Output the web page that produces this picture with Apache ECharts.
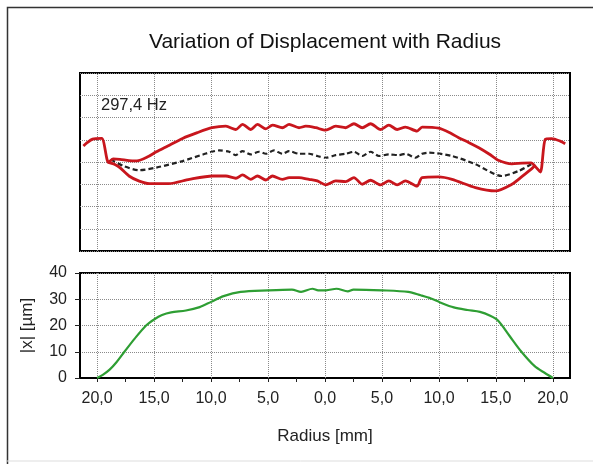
<!DOCTYPE html>
<html>
<head>
<meta charset="utf-8">
<script src="https://cdn.jsdelivr.net/npm/echarts@6/dist/echarts.min.js"></script>
<style>
  html, body { margin: 0; padding: 0; background: #fff; }
  #chart { width: 593px; height: 464px; }
</style>
</head>
<body>
<div id="chart"></div>
<script>
// Radial tick positions [mm] and their labels
const majorTicks = [-20, -15, -10, -5, 0, 5, 10, 15, 20];
const minorTicks = [-20, -17.5, -15, -12.5, -10, -7.5, -5, -2.5, 0, 2.5, 5, 7.5, 10, 12.5, 15, 17.5, 20];
const ampTicks = [0, 10, 20, 30, 40];

// Deflection shape at 297,4 Hz: upper envelope, mean position, lower envelope [radius, value]
const upperEnvelope = [
  [-21.2, 0.72], [-20.9, 0.86], [-20.4, 1.03], [-19.6, 1.06], [-19.0, -0.02],
  [-18.6, 0.14], [-18.0, 0.12], [-17.2, 0.06], [-16.5, 0.05], [-15.6, 0.22],
  [-14.8, 0.46], [-13.8, 0.72], [-12.5, 1.06], [-11.2, 1.32], [-9.9, 1.54],
  [-8.7, 1.61], [-7.82, 1.46], [-7.24, 1.69], [-6.51, 1.46], [-5.93, 1.69],
  [-5.19, 1.49], [-4.61, 1.66], [-3.74, 1.54], [-3.15, 1.69], [-2.28, 1.54],
  [-1.69, 1.61], [-0.81, 1.54], [0.06, 1.43], [0.94, 1.61], [1.81, 1.54],
  [2.54, 1.72], [3.27, 1.54], [4.0, 1.72], [4.88, 1.46], [5.6, 1.66],
  [6.33, 1.46], [7.06, 1.57], [8.08, 1.39], [8.52, 1.57], [9.98, 1.52],
  [11.0, 1.30], [11.73, 1.09], [12.6, 0.88], [13.5, 0.64], [14.4, 0.36],
  [15.2, 0.08], [16.4, -0.08], [17.3, -0.05], [18.1, -0.04], [18.45, -0.2],
  [18.9, -0.45], [19.33, 1.02], [19.88, 1.05], [20.64, 0.94], [21.08, 0.82]
];
const meanPosition = [
  [-18.8, 0.12], [-17.7, -0.18], [-16.3, -0.37], [-14.8, -0.25], [-12.5, 0.04],
  [-10.7, 0.34], [-9.29, 0.52], [-8.41, 0.46], [-7.82, 0.31], [-7.24, 0.49],
  [-6.51, 0.34], [-5.78, 0.46], [-5.19, 0.37], [-4.47, 0.52], [-3.74, 0.37],
  [-3.15, 0.49], [-2.28, 0.37], [-1.40, 0.37], [-0.67, 0.27], [0.06, 0.19],
  [0.94, 0.31], [1.81, 0.37], [2.54, 0.46], [3.27, 0.27], [4.0, 0.46],
  [4.73, 0.27], [5.6, 0.34], [6.48, 0.31], [7.06, 0.37], [7.94, 0.19],
  [8.52, 0.37], [9.11, 0.42], [11.15, 0.27], [13.2, -0.10], [15.5, -0.63],
  [17.0, -0.40], [18.1, -0.10]
];
const lowerEnvelope = [
  [-19.0, -0.02], [-18.4, -0.12], [-18.0, -0.25], [-17.2, -0.63], [-16.3, -0.86],
  [-15.4, -0.97], [-13.7, -0.97], [-11.9, -0.78], [-9.87, -0.63], [-8.7, -0.63],
  [-7.82, -0.73], [-7.24, -0.58], [-6.51, -0.78], [-5.93, -0.63], [-5.19, -0.81],
  [-4.61, -0.63], [-3.74, -0.78], [-3.15, -0.70], [-2.28, -0.70], [-1.40, -0.78],
  [-0.67, -0.85], [0.06, -1.03], [0.94, -0.85], [1.81, -0.88], [2.54, -0.70],
  [3.27, -1.0], [4.0, -0.82], [4.88, -1.03], [5.6, -0.85], [6.33, -1.03],
  [7.06, -0.85], [8.08, -1.08], [8.52, -0.70], [9.98, -0.67], [11.15, -0.78],
  [13.2, -1.15], [14.95, -1.30], [16.4, -1.0], [17.3, -0.65], [18.15, -0.3],
  [18.45, -0.15]
];

// Displacement amplitude |x| [µm] versus radius [mm]
const amplitude = [
  [-20, 0], [-19.5, 1.2], [-18.9, 3.2], [-18.3, 6], [-17.6, 10], [-16.7, 15],
  [-15.7, 20], [-15, 22.3], [-14.3, 24], [-13.5, 25], [-12.2, 25.7], [-11, 27],
  [-10, 29], [-8.9, 31.2], [-7.4, 32.8], [-5, 33.4], [-2.9, 33.7], [-2.1, 32.8],
  [-1.1, 34.0], [-0.6, 33.4], [0.1, 33.4], [1.0, 34.0], [2.0, 33.0], [2.5, 33.7],
  [5, 33.4], [7.3, 32.8], [8.4, 31.5], [9.3, 30.3], [10.1, 28.8], [11.3, 26.9],
  [12.5, 25.9], [13.6, 25.2], [14.5, 23.7], [15.2, 21.8], [16.2, 16], [17.2, 10.2],
  [18.4, 4.5], [19.3, 1.9], [20, 0]
];

const FONT = 'Liberation Sans, Arial, sans-serif';
const TEXT = '#222';
const gridDots = { color: '#8a8a8a', width: 1, type: 'dotted' };
const red = '#c8161d';

const verticalGrid = (xi, yi) => ({
  type: 'line', xAxisIndex: xi, yAxisIndex: yi, data: [], z: 1, silent: true,
  markLine: {
    silent: true, symbol: 'none', animation: false, label: { show: false },
    lineStyle: gridDots,
    data: majorTicks.map(v => ({ xAxis: v }))
  }
});

const chart = echarts.init(document.getElementById('chart'), null, { renderer: 'canvas' });
chart.setOption({
  animation: false,
  backgroundColor: '#fff',
  textStyle: { fontFamily: FONT },
  graphic: [
    { type: 'polyline', z: 100, shape: { points: [[7.5, 470], [7.5, 7.5], [600, 7.5]] },
      style: { stroke: '#333', lineWidth: 1.5, fill: null } },
    { type: 'line', z: 100, shape: { x1: 7, y1: 461, x2: 600, y2: 461 },
      style: { stroke: '#ddd', lineWidth: 1 } },
    { type: 'text', z: 100,
      style: { text: 'Variation of Displacement with Radius', x: 325, y: 42, align: 'center',
               verticalAlign: 'middle', font: '21px ' + FONT, fill: '#111' } },
    { type: 'text', z: 100,
      style: { text: '297,4 Hz', x: 101, y: 105, verticalAlign: 'middle',
               font: '16.5px ' + FONT, fill: TEXT } }
  ],
  grid: [
    { left: 80, top: 73, width: 490, height: 178, show: true, borderColor: '#000', borderWidth: 2 },
    { left: 80, top: 273, width: 490, height: 105, show: true, borderColor: '#000', borderWidth: 2 }
  ],
  xAxis: [
    { type: 'value', gridIndex: 0, min: -21.5, max: 21.5,
      axisLine: { show: false }, axisTick: { show: false }, axisLabel: { show: false },
      splitLine: { show: false } },
    { type: 'value', gridIndex: 1, min: -21.5, max: 21.5,
      name: 'Radius [mm]', nameLocation: 'middle', nameGap: 50,
      nameTextStyle: { fontSize: 17, color: TEXT, fontFamily: FONT },
      axisLine: { show: true, onZero: false, lineStyle: { color: '#000', width: 2 } },
      axisTick: { show: true, customValues: minorTicks, length: 4, inside: false,
                  lineStyle: { color: '#222', width: 1 } },
      axisLabel: { show: true, customValues: majorTicks, fontSize: 16, color: TEXT, margin: 13,
                   fontFamily: FONT,
                   formatter: v => Math.abs(v).toFixed(1).replace('.', ',') },
      splitLine: { show: false } }
  ],
  yAxis: [
    { type: 'value', gridIndex: 0, min: -4, max: 4, interval: 1,
      axisLine: { show: false }, axisTick: { show: false }, axisLabel: { show: false },
      splitLine: { show: true, lineStyle: gridDots } },
    { type: 'value', gridIndex: 1, min: 0, max: 40, interval: 10,
      name: '|x| [µm]', nameLocation: 'middle', nameGap: 44, nameRotate: 90,
      nameTextStyle: { fontSize: 17, color: TEXT, fontFamily: FONT },
      axisLine: { show: true, onZero: false, lineStyle: { color: '#000', width: 2 } },
      axisTick: { show: true, length: 5, lineStyle: { color: '#222', width: 1 } },
      axisLabel: { show: true, fontSize: 16, color: TEXT, margin: 13, fontFamily: FONT },
      splitLine: { show: true, lineStyle: gridDots } }
  ],
  series: [
    verticalGrid(0, 0),
    verticalGrid(1, 1),
    { name: 'upper', type: 'line', xAxisIndex: 0, yAxisIndex: 0, data: upperEnvelope,
      showSymbol: false, smooth: 0.25, z: 5, lineStyle: { color: red, width: 2.8 } },
    { name: 'lower', type: 'line', xAxisIndex: 0, yAxisIndex: 0, data: lowerEnvelope,
      showSymbol: false, smooth: 0.25, z: 5, lineStyle: { color: red, width: 2.8 } },
    { name: 'mean', type: 'line', xAxisIndex: 0, yAxisIndex: 0, data: meanPosition,
      showSymbol: false, smooth: 0.25, z: 4, lineStyle: { color: '#222', width: 2.2, type: [5, 3] } },
    { name: 'amplitude', type: 'line', xAxisIndex: 1, yAxisIndex: 1, data: amplitude,
      showSymbol: false, smooth: 0.3, z: 5, lineStyle: { color: '#2e9e33', width: 2.2 } }
  ]
});
</script>
</body>
</html>
